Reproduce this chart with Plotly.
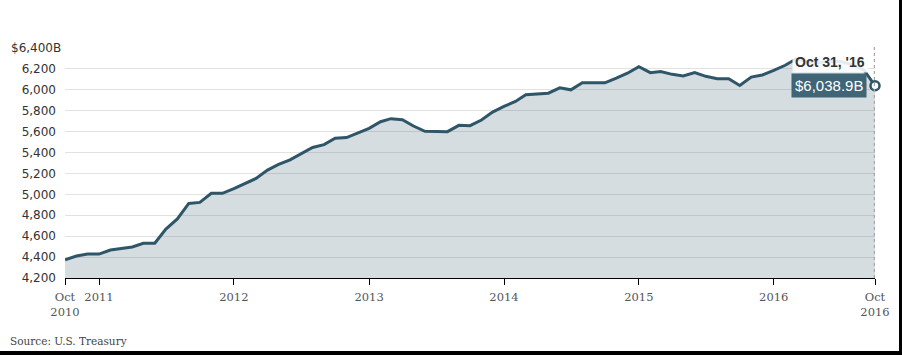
import pandas as pd
import plotly.graph_objects as go

# Monthly values, Oct 2010 .. Oct 2016 (billions of dollars)
months = pd.date_range("2010-10-01", "2016-10-01", freq="MS")
values = [
    4375, 4410, 4429,                                                        # 2010 Oct-Dec
    4429, 4468, 4481, 4497, 4532, 4532, 4668, 4765, 4913, 4923, 5010, 5010,  # 2011
    5055, 5103, 5152, 5232, 5286, 5330, 5390, 5448, 5476, 5537, 5543, 5584,  # 2012
    5632, 5695, 5724, 5714, 5654, 5603, 5603, 5600, 5660, 5657, 5711, 5787,  # 2013
    5841, 5889, 5952, 5959, 5968, 6019, 6000, 6067, 6067, 6067, 6111, 6159,  # 2014
    6222, 6164, 6174, 6148, 6132, 6164, 6129, 6106, 6106, 6042, 6122, 6142,  # 2015
    6187, 6235, 6295, 6270, 6260, 6275, 6270, 6240, 6190, 6038.9,            # 2016 Jan-Oct
]

y_ticks = [4200, 4400, 4600, 4800, 5000, 5200, 5400, 5600, 5800, 6000, 6200, 6400]
y_labels = ["4,200", "4,400", "4,600", "4,800", "5,000", "5,200", "5,400",
            "5,600", "5,800", "6,000", "6,200", ""]
top_label = "$6,400B"
x_ticks = ["2010-10-01", "2011-01-01", "2012-01-01", "2013-01-01", "2014-01-01",
           "2015-01-01", "2016-01-01", "2016-10-01"]
x_labels = ["Oct<br>2010", "2011", "2012", "2013", "2014", "2015", "2016", "Oct<br>2016"]

hover_date = "Oct 31, '16"
hover_value = "$6,038.9B"
source = "Source: U.S. Treasury"

LINE = "#2f5668"
FILL = "rgba(47,86,104,0.20)"
YFONT = dict(family="DejaVu Sans, sans-serif", size=12, color="#333333")

fig = go.Figure()
fig.add_trace(go.Scatter(
    x=months, y=values, mode="lines",
    line=dict(color=LINE, width=3),
    fill="tozeroy", fillcolor=FILL,
    hoverinfo="skip", showlegend=False,
))

# hover guide line
fig.add_shape(type="line", xref="x", yref="paper",
              x0=months[-1], x1=months[-1], y0=0, y1=1.015,
              line=dict(color="#a8a8a8", width=2.5, dash="dot"), layer="above")

# hover marker
fig.add_trace(go.Scatter(
    x=[months[-1]], y=[values[-1]], mode="markers",
    marker=dict(size=9, color="white", line=dict(color=LINE, width=2.5)),
    hoverinfo="skip", showlegend=False, cliponaxis=False,
))

fig.add_annotation(x=months[-1], y=values[-1], xref="x", yref="y",
                   text=hover_value, showarrow=False,
                   xanchor="right", yanchor="middle", xshift=-8,
                   bgcolor="#3f6577", borderpad=3,
                   font=dict(family="Liberation Sans, Arial", size=15, color="white"))
fig.add_annotation(x=months[-1], y=values[-1], xref="x", yref="y",
                   text="<b>" + hover_date + "</b>", showarrow=False,
                   xanchor="right", yanchor="middle", xshift=-7, yshift=24,
                   bgcolor="rgba(255,255,255,0.88)", borderpad=2,
                   font=dict(family="Liberation Sans, Arial", size=14, color="#333333"))

# top y label (extends past the other labels' right edge)
fig.add_annotation(x=0, y=y_ticks[-1], xref="paper", yref="y",
                   text=top_label, showarrow=False,
                   xanchor="right", yanchor="middle", xshift=-2,
                   font=YFONT)

fig.add_annotation(x=0, y=0, xref="paper", yref="paper",
                   text=source, showarrow=False,
                   xanchor="left", yanchor="middle",
                   xshift=-57, yshift=-63,
                   font=dict(family="DejaVu Serif, serif", size=10.5, color="#444444"))

# black border strips at right and bottom of the screenshot
fig.add_shape(type="rect", xref="paper", yref="paper",
              x0=(899 - 65) / 810, x1=1.1, y0=-0.5, y1=1.3,
              fillcolor="black", line=dict(width=0), layer="above")
fig.add_shape(type="rect", xref="paper", yref="paper",
              x0=-0.2, x1=1.1, y0=-0.5, y1=(278 - 351) / 230,
              fillcolor="black", line=dict(width=0), layer="above")

fig.update_layout(
    width=902, height=355,
    margin=dict(l=65, r=27, t=48, b=77, autoexpand=False),
    plot_bgcolor="white", paper_bgcolor="white",
    xaxis=dict(
        range=["2010-10-01", "2016-10-01"], automargin=False,
        tickmode="array", tickvals=x_ticks, ticktext=x_labels,
        ticks="outside", ticklen=6, tickcolor="black", tickwidth=1,
        showline=True, linecolor="black", linewidth=1,
        showgrid=False, zeroline=False, ticklabelstandoff=2,
        tickfont=dict(family="DejaVu Serif, serif", size=11.5, color="#555555"),
    ),
    yaxis=dict(
        range=[4200, 6400], automargin=False,
        tickmode="array", tickvals=y_ticks, ticktext=y_labels,
        showgrid=True, gridcolor="#e2e2e2", gridwidth=1,
        zeroline=False, showline=False, ticks="", ticklabelstandoff=8,
        tickfont=YFONT,
    ),
)

fig.write_html(
    "out.html",
    config={"displayModeBar": False},
    post_script="document.body.style.margin='0';document.body.style.overflow='hidden';",
)
